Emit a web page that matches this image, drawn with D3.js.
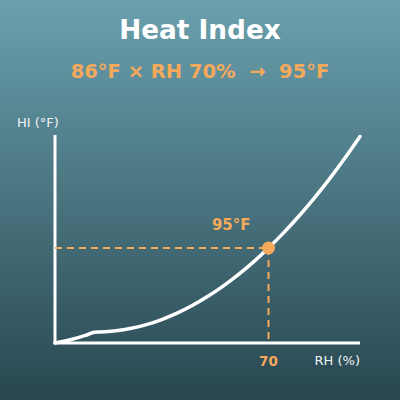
<!DOCTYPE html>
<html><head><meta charset="utf-8">
<script src="https://cdn.jsdelivr.net/npm/d3@7"></script>
<style>html,body{margin:0;padding:0;background:#2b4a53}svg{display:block}text{white-space:pre}</style>
</head><body>
<svg id="c" width="400" height="400"></svg>
<script>
const title = "Heat Index";
const subtitle = "86°F × RH 70%  →  95°F";
const rh = [0, 5, 10, 13, 15, 20, 25, 30, 35, 40, 45, 50, 55, 60, 65, 70, 75, 80, 85, 90, 95, 100];
const hi = [81.03, 81.50, 82.15, 82.63, 82.65, 82.83, 83.20, 83.75, 84.50, 85.44, 86.57, 87.89, 89.40, 91.10, 92.99, 95.07, 97.34, 99.80, 102.45, 105.29, 108.33, 111.55];
const markRH = 70;
const markHI = 95.07;
const markLabel = "95°F";
const xLabel = "RH (%)";
const yLabel = "HI (°F)";

const svg = d3.select("#c");
const defs = svg.append("defs");
const g = defs.append("linearGradient").attr("id","bg").attr("x1",0).attr("y1",0).attr("x2",0).attr("y2",1);
g.append("stop").attr("offset","0%").attr("stop-color","#6aa0ae");
g.append("stop").attr("offset","100%").attr("stop-color","#284750");
svg.append("rect").attr("width",400).attr("height",400).attr("fill","url(#bg)");

const x = d3.scaleLinear().domain([0,100]).range([55,360]);
const y = d3.scaleLinear().domain(d3.extent(hi)).range([343,136.5]);
const orange = "#f5a95b";
const font = "DejaVu Sans, sans-serif";

svg.append("text").attr("x",200).attr("y",39).attr("text-anchor","middle")
  .attr("font-family",font).attr("font-weight","bold").attr("font-size",26.3).attr("fill","#fff").text(title);
svg.append("text").attr("x",200).attr("y",78).attr("text-anchor","middle").attr("xml:space","preserve")
  .attr("font-family",font).attr("font-weight","bold").attr("font-size",19.5).attr("fill",orange).text(subtitle);

// axes
svg.append("line").attr("x1",x(0)).attr("x2",x(0)).attr("y1",135).attr("y2",y.range()[0]).attr("stroke","#fff").attr("stroke-width",3);
svg.append("line").attr("x1",x(0)-1.5).attr("x2",x(100)).attr("y1",y.range()[0]).attr("y2",y.range()[0]).attr("stroke","#fff").attr("stroke-width",3);

// dashed guides
svg.append("line").attr("x1",x(0)).attr("x2",x(markRH)).attr("y1",y(markHI)).attr("y2",y(markHI))
  .attr("stroke",orange).attr("stroke-width",2).attr("stroke-dasharray","7,5");
svg.append("line").attr("x1",x(markRH)).attr("x2",x(markRH)).attr("y1",y(markHI)).attr("y2",y.range()[0])
  .attr("stroke",orange).attr("stroke-width",2).attr("stroke-dasharray","7,5");

// curve
const data = rh.map((r,i)=>[r,hi[i]]);
svg.append("path").datum(data).attr("fill","none").attr("stroke","#fff").attr("stroke-width",3.5)
  .attr("stroke-linecap","round")
  .attr("d", d3.line().x(d=>x(d[0])).y(d=>y(d[1])).curve(d3.curveMonotoneX));

svg.append("circle").attr("cx",x(markRH)).attr("cy",y(markHI)).attr("r",6.5).attr("fill",orange);

svg.append("text").attr("x",x(markRH)-18).attr("y",y(markHI)-18).attr("text-anchor","end")
  .attr("font-family",font).attr("font-weight","bold").attr("font-size",15).attr("fill",orange).text(markLabel);
svg.append("text").attr("x",x(markRH)).attr("y",366).attr("text-anchor","middle")
  .attr("font-family",font).attr("font-weight","bold").attr("font-size",13.5).attr("fill",orange).text(markRH);
svg.append("text").attr("x",x(100)).attr("y",365).attr("text-anchor","end")
  .attr("font-family",font).attr("font-size",13).attr("fill","#eef4f5").text(xLabel);
svg.append("text").attr("x",17).attr("y",127)
  .attr("font-family",font).attr("font-size",13).attr("fill","#eef4f5").text(yLabel);
</script>
</body></html>
